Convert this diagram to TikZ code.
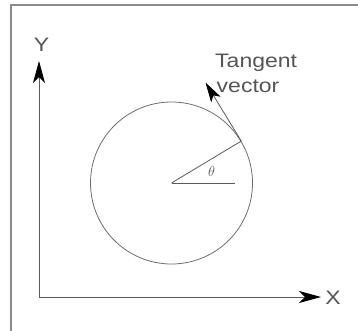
\documentclass[tikz,border=0pt]{standalone}
\usepackage{fontspec}
\newfontfamily\cadfont[FakeStretch=1.18]{Liberation Sans}
\usetikzlibrary{arrows.meta}
\definecolor{framegray}{HTML}{8A8A8A}
\definecolor{linegray}{HTML}{5A5A5A}
\definecolor{circgray}{HTML}{6E6E6E}
\definecolor{textgray}{HTML}{555555}
\tikzset{
  frameline/.style={draw=framegray, line width=2pt},
  axisline/.style={draw=linegray, line width=0.9pt, -{Stealth[length=22pt,width=12pt,inset=6pt,black]}},
  thinline/.style={draw=linegray, line width=0.8pt},
  vecline/.style={draw=linegray, line width=0.8pt, -{Stealth[length=20pt,width=11pt,inset=5pt,black]}},
  lbl/.style={text=textgray, inner sep=0pt, font=\cadfont\fontsize{19.5}{24}\selectfont},
}
\begin{document}
\begin{tikzpicture}[x=1pt,y=-1pt]
\useasboundingbox (0,0) rectangle (358,331);
% frame
\draw[frameline] (358,5.5) -- (11,5.5) -- (11,331);
% axes
\coordinate (o) at (39,297);
\coordinate (ytip) at (39,61);
\coordinate (xtip) at (321,297);
\draw[axisline] (o) -- (ytip);
\draw[axisline] (o) -- (xtip);
\node[lbl, anchor=base] (ylab) at (41.5,52) {Y};
\node[lbl, anchor=base] (xlab) at (333,304) {X};
% circle
\node[circle, draw=circgray, line width=0.8pt, minimum size=162pt, inner sep=0pt] (c) at (171.5,183) {};
\coordinate (p) at (c.31);
\coordinate (h) at (235,183);
\draw[thinline] (c.center) -- (p);
\draw[thinline] (c.center) -- (h);
\node[text=textgray, inner sep=0pt, font=\fontsize{14}{14}\selectfont] (th) at (211.5,171) {$\theta$};
% tangent vector
\coordinate (tt) at (205.5,82.5);
\draw[vecline] (p) -- (tt);
\node[lbl, anchor=base west] (tan1) at (215,67.5) {Tangent};
\node[lbl, anchor=base west] (tan2) at (216.5,92.5) {vector};
\end{tikzpicture}
\end{document}
